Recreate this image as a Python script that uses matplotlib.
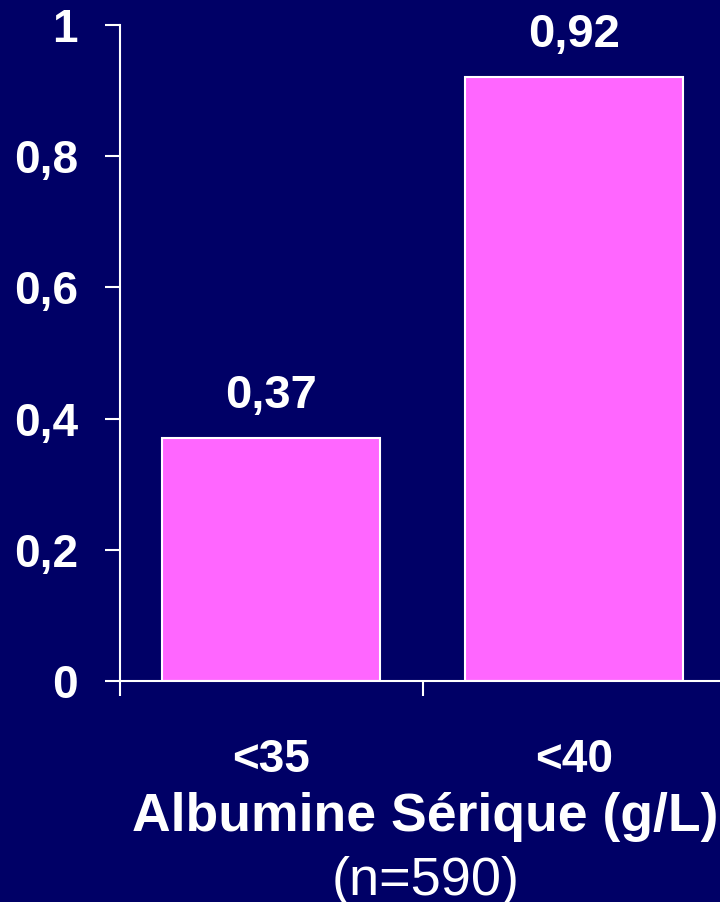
import numpy as np
import matplotlib
matplotlib.use("Agg")
import matplotlib.pyplot as plt

# Data
categories = ["<35", "<40"]
values = [0.37, 0.92]
value_labels = ["0,37", "0,92"]
yticks = [0, 0.2, 0.4, 0.6, 0.8, 1]
ytick_labels = ["0", "0,2", "0,4", "0,6", "0,8", "1"]
xlabel = "Albumine Sérique (g/L)"
sublabel = "(n=590)"

bg = "#000066"
bar_color = "#FF66FF"
plt.rcParams["font.family"] = ["Liberation Sans", "DejaVu Sans"]

fig = plt.figure(figsize=(7.2, 9.02), dpi=100, facecolor=bg)
W, H = 720, 902
ax = fig.add_axes([120 / W, (H - 681) / H, 605 / W, 656 / H], facecolor=bg)


def px(p):
    # pixels -> points at 100 dpi
    return p * 0.72


x = np.arange(len(categories))
ax.bar(x, values, width=0.72, color=bar_color, edgecolor="white", linewidth=1.5, zorder=2)

ax.set_xlim(-0.5, 1.5)
ax.set_ylim(0, 1)

for s in ["top", "right"]:
    ax.spines[s].set_visible(False)
for s in ["left", "bottom"]:
    ax.spines[s].set_color("white")
    ax.spines[s].set_linewidth(1.5)
    ax.spines[s].set_clip_on(False)

ax.set_yticks(yticks)
ax.set_yticklabels(ytick_labels, fontsize=33, fontweight="bold", color="white")
ax.tick_params(axis="y", length=px(15), width=1.5, color="white", pad=px(27))

# tick marks between categories, labels under bar centres
ax.set_xticks([-0.5, 0.5, 1.5])
ax.set_xticklabels([])
ax.tick_params(axis="x", length=px(15), width=1.5, color="white")
for xi, lab in zip(x, categories):
    ax.annotate(lab, (xi, 0), xycoords=("data", "axes fraction"),
                xytext=(0, -px(91)), textcoords="offset points",
                ha="center", va="baseline", fontsize=33, fontweight="bold", color="white")

for xi, v, lab in zip(x, values, value_labels):
    ax.annotate(lab, (xi, v), xytext=(0, px(30)), textcoords="offset points",
                ha="center", va="baseline", fontsize=34, fontweight="bold", color="white")

ax.annotate(xlabel, (0.5, 0), xycoords=("data", "axes fraction"),
            xytext=(px(3), -px(150)), textcoords="offset points",
            ha="center", va="baseline", fontsize=38.5, fontweight="bold", color="white")
ax.annotate(sublabel, (0.5, 0), xycoords=("data", "axes fraction"),
            xytext=(px(3), -px(214)), textcoords="offset points",
            ha="center", va="baseline", fontsize=39, color="white")

fig.savefig("out.png", dpi=100, facecolor=bg)
